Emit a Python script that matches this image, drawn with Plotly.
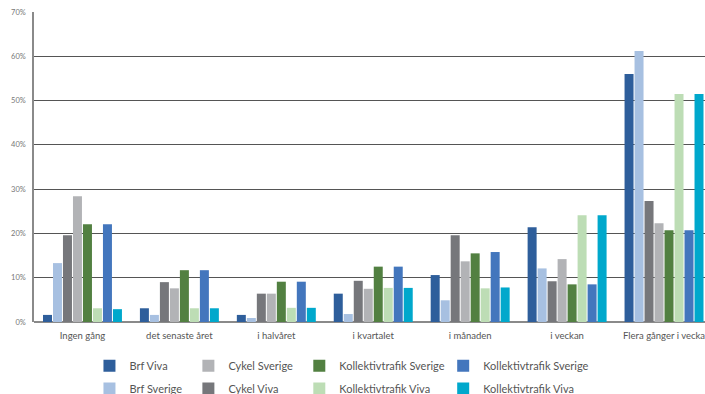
import plotly.graph_objects as go

categories = ["Ingen gång", "det senaste året", "i halvåret", "i kvartalet",
              "i månaden", "i veckan", "Flera gånger i vecka"]

brf_viva = [1.6, 3.1, 1.6, 6.4, 10.6, 21.4, 56.0]
brf_sverige = [13.3, 1.6, 0.9, 1.8, 4.9, 12.1, 61.2]
cykel_viva = [19.6, 9.0, 6.4, 9.3, 19.6, 9.2, 27.3]
cykel_sverige = [28.4, 7.6, 6.4, 7.5, 13.7, 14.2, 22.3]
kollektiv_sverige_a = [22.1, 11.7, 9.1, 12.5, 15.5, 8.5, 20.7]
kollektiv_viva_a = [3.1, 3.1, 3.2, 7.7, 7.6, 24.1, 51.5]
kollektiv_sverige_b = [22.1, 11.7, 9.1, 12.5, 15.8, 8.5, 20.7]
kollektiv_viva_b = [2.9, 3.1, 3.2, 7.7, 7.8, 24.1, 51.5]

y_ticks = [0, 10, 20, 30, 40, 50, 60, 70]
y_tick_labels = ["0%", "10%", "20%", "30%", "40%", "50%", "60%", "70%"]

series = [
    ("Brf Viva", brf_viva, "#2E5E9B", "legend", 1),
    ("Brf Sverige", brf_sverige, "#A7C0E1", "legend", 2),
    ("Cykel Viva", cykel_viva, "#76777B", "legend2", 2),
    ("Cykel Sverige", cykel_sverige, "#B2B3B6", "legend2", 1),
    ("Kollektivtrafik Sverige", kollektiv_sverige_a, "#528041", "legend3", 1),
    ("Kollektivtrafik Viva", kollektiv_viva_a, "#BDDDB5", "legend3", 2),
    ("Kollektivtrafik Sverige", kollektiv_sverige_b, "#4376BD", "legend4", 1),
    ("Kollektivtrafik Viva", kollektiv_viva_b, "#00A8CC", "legend4", 2),
]

W, H = 705, 394
ml, mr, mt, mb = 33.5, 0, 12.3, 72.3
group_px = 97.0
x_max = -0.5 + (W - ml - mr) / group_px

fig = go.Figure()
for i, (name, vals, color, leg, rank) in enumerate(series):
    fig.add_trace(go.Bar(
        x=categories, y=vals, name=name, marker_color=color,
        marker_line_width=0, legend=leg, legendrank=rank,
        legendgroup="g%d" % i, hoverinfo="skip",
    ))

font_fam = "Lato, Open Sans, sans-serif"
legend_common = dict(
    orientation="v", bgcolor="rgba(0,0,0,0)", borderwidth=0,
    font=dict(family=font_fam, size=11, color="#555555"),
    tracegroupgap=3.7, xanchor="left", yanchor="top",
)
plot_w = W - ml - mr
plot_h = H - mt - mb
def px_to_paper_x(px):
    return (px - ml) / plot_w
def px_to_paper_y(py):
    return (H - mb - py) / plot_h

legend_x = [89, 188, 299, 443]
legend_y = px_to_paper_y(351)

fig.update_layout(
    width=W, height=H,
    margin=dict(l=ml, r=mr, t=mt, b=mb, pad=0, autoexpand=False),
    paper_bgcolor="white", plot_bgcolor="white",
    barmode="group", bargap=0.175, bargroupgap=0.1,
    font=dict(family=font_fam, color="#555555"),
    showlegend=True,
    legend=dict(x=px_to_paper_x(legend_x[0]), y=legend_y, **legend_common),
    legend2=dict(x=px_to_paper_x(legend_x[1]), y=legend_y, **legend_common),
    legend3=dict(x=px_to_paper_x(legend_x[2]), y=legend_y, **legend_common),
    legend4=dict(x=px_to_paper_x(legend_x[3]), y=legend_y, **legend_common),
    xaxis=dict(
        range=[-0.5, x_max], showgrid=False, zeroline=False,
        showline=False, ticks="", ticklabeloverflow="allow",
        ticklabelstandoff=6,
        tickfont=dict(family=font_fam, size=9.5, color="#555555"),
        fixedrange=True,
    ),
    yaxis=dict(
        range=[0, 70], tickvals=y_ticks, ticktext=y_tick_labels,
        showgrid=True, gridcolor="#555555", gridwidth=1,
        zeroline=True, zerolinecolor="#8a8a8a", zerolinewidth=2,
        showline=True, linecolor="#8a8a8a", linewidth=1.5,
        ticks="", ticklabelstandoff=5,
        tickfont=dict(family=font_fam, size=7.5, color="#777777"),
        fixedrange=True,
    ),
)

fig.write_html("out.html")
